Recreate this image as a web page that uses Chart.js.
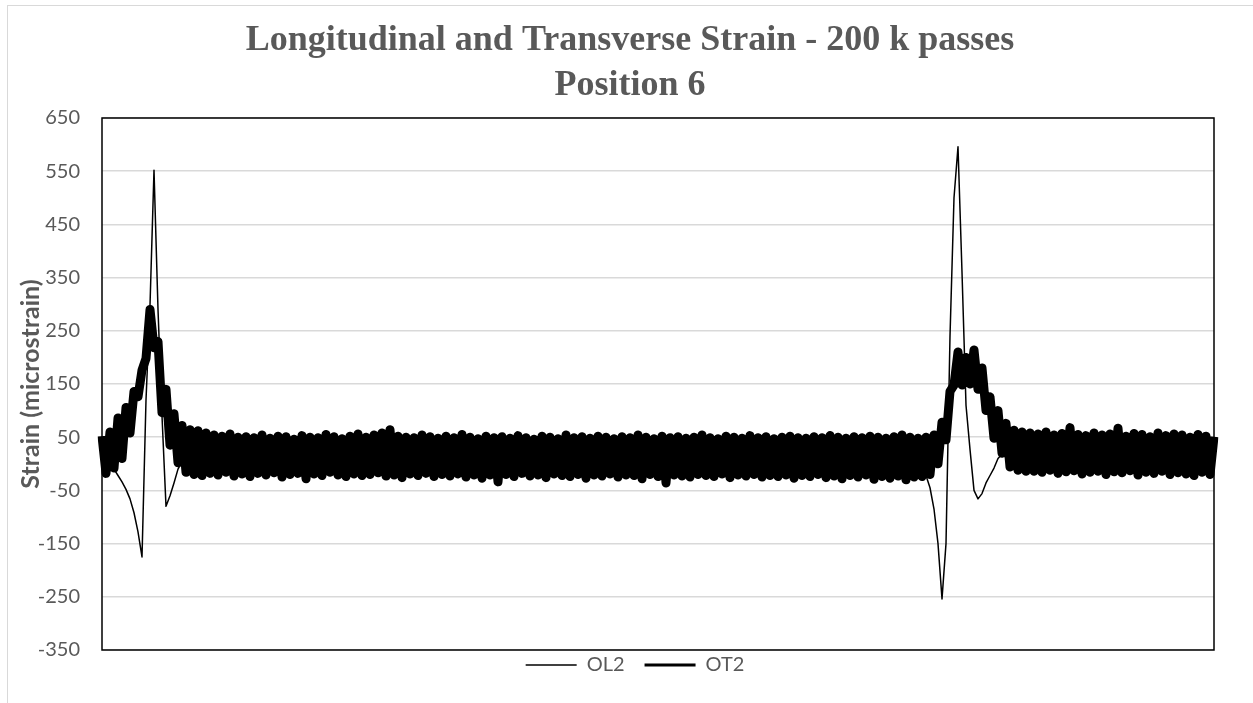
<!DOCTYPE html>
<html>
<head>
<meta charset="utf-8">
<title>Longitudinal and Transverse Strain - 200 k passes</title>
<script src="https://cdn.jsdelivr.net/npm/chart.js@4.4.1/dist/chart.umd.min.js"></script>
<style>
	html, body { margin: 0; padding: 0; background: #fff; }
	canvas { display: block; }
</style>
</head>
<body>
<canvas id="strainChart" width="1253" height="703"></canvas>
<script>
// samples (microstrain), one every ~4 px of the trace
const OL2 = [
	10, 6, 2, -10, -22, -34, -48, -66, -92, -128, -175, 120, 298, 552, 290, 90, -80, -60, -36, -10, 4, 12, 8,
	15, 4, 20, 8, 18, 2, 22, 10, 16, 6,
	19, 3, 21, 9, 14, 5, 23, 11, 17, 7,
	20, 2, 18, 8, 24, 4, 16, 10, 21, 6,
	15, 3, 19, 9, 22, 5, 17, 11, 20, 7,
	18, 4, 23, 8, 15, 2, 21, 10, 19, 6,
	16, 3, 22, 9, 18, 5, 20, 11, 14, 7,
	21, 4, 17, 8, 23, 2, 19, 10, 16, 6,
	20, 3, 15, 9, 22, 5, 18, 11, 21, 7,
	17, 4, 24, 8, 16, 2, 20, 10, 18, 6,
	19, 3, 21, 9, 15, 5, 23, 11, 17, 7,
	22, 4, 18, 8, 20, 2, 16, 10, 21, 6,
	15, 3, 19, 9, 24, 5, 17, 11, 20, 7,
	18, 4, 22, 8, 16, 2, 21, 10, 19, 6,
	23, 3, 17, 9, 20, 5, 15, 11, 22, 7,
	16, 4, 21, 8, 18, 2, 24, 10, 17, 6,
	20, 3, 15, 9, 22, 5, 19, 11, 16, 7,
	21, 4, 18, 8, 23, 2, 17, 10, 20, 6,
	15, 3, 22, 9, 19, 5, 16, 11, 21, 7,
	14, 9,
	8, -22, -45, -85, -150, -254, -150, 240, 500, 596, 360, 110, 27, -50, -66, -56, -36, -22, -8, 10, 18, 12, 20, 8, 16, 6, 19,
	5, 17, 9, 21, 4, 15, 10, 22, 6, 18,
	3, 20, 8, 16, 11, 23, 5, 19, 7, 14,
	9, 21, 4, 18, 10, 22, 6, 15, 8, 20,
	3, 17, 11, 24, 5, 19, 7, 16, 9, 21,
	4, 18, 10, 15, 6, 20, 12,
];

// OT2 swings between the top and bottom of its noise band at every sample
const OT2 = [
	52, -18, 60, -8, 86, 10, 106, 58, 136, 126, 176, 198, 290, 218, 230, 96, 140, 35, 94, 2, 72, -16, 64,
	-20, 62, -22, 58, -18, 54, -21, 52, -16, 56,
	-23, 50, -19, 51, -24, 49, -18, 54, -21, 48,
	-17, 52, -25, 51, -20, 46, -18, 53, -28, 50,
	-19, 49, -22, 55, -16, 51, -21, 47, -24, 52,
	-19, 56, -22, 50, -20, 54, -17, 58, -23, 64,
	-21, 52, -26, 50, -19, 49, -22, 54, -18, 51,
	-24, 48, -20, 52, -23, 49, -19, 55, -25, 50,
	-21, 47, -27, 52, -21, 49, -34, 51, -20, 48,
	-24, 53, -18, 49, -23, 46, -21, 52, -26, 50,
	-19, 47, -22, 54, -24, 49, -20, 51, -27, 48,
	-21, 52, -23, 50, -19, 47, -25, 51, -21, 49,
	-22, 54, -28, 50, -20, 47, -24, 52, -36, 49,
	-21, 51, -23, 48, -25, 50, -20, 54, -22, 49,
	-24, 47, -19, 52, -26, 50, -21, 48, -23, 53,
	-20, 49, -25, 51, -22, 47, -24, 50, -21, 52,
	-27, 49, -22, 48, -24, 51, -20, 49, -26, 53,
	-23, 50, -28, 48, -22, 51, -25, 49, -21, 52,
	-29, 50, -24, 48, -27, 51, -23, 54, -30, 50,
	-25, 48,
	-24, 50, -20, 54, 0, 78, 45, 136, 148, 210, 148, 200, 150, 214, 140, 180, 100, 126, 48, 100, 20, 76, -6, 63, -12, 60, -14,
	58, -14, 56, -16, 60, -12, 54, -18, 57, -15,
	68, -13, 55, -19, 53, -16, 58, -14, 54, -20,
	56, -15, 67, -17, 52, -13, 57, -21, 55, -16,
	51, -18, 58, -14, 53, -20, 56, -17, 54, -19,
	50, -22, 55, -16, 52, -20, 51,
];

const seriesNames = ["OL2", "OT2"];
const yMin = -350;
const yMax = 650;
const yStep = 100;

const samples = OT2.map(function (v, i) {
	return i;
});

const grey = "#595959";

// light outer frame, black plot border, legend and title nudged like the original
const frame = {
	id: "frame",
	beforeDraw: function (chart) {
		const ctx = chart.ctx;
		ctx.save();
		ctx.fillStyle = "#fff";
		ctx.fillRect(0, 0, chart.width, chart.height);
		ctx.strokeStyle = "#d9d9d9";
		ctx.lineWidth = 1;
		ctx.strokeRect(7.5, 5.5, chart.width, chart.height);
		ctx.restore();
	},
	afterLayout: function (chart) {
		const lg = chart.legend;
		lg.left += 24;
		lg.right += 24;
		lg.top -= 15;
		lg.bottom -= 15;
		const t = chart.titleBlock;
		t.left += 19;
		t.right += 19;
	},
	afterDraw: function (chart) {
		const a = chart.chartArea;
		const ctx = chart.ctx;
		ctx.save();
		ctx.strokeStyle = "#000";
		ctx.lineWidth = 1.5;
		ctx.strokeRect(a.left, a.top, a.right - a.left, a.bottom - a.top);
		ctx.restore();
	},
};

const ctx = document.getElementById("strainChart");
const strainChart = new Chart(ctx, {
	type: "line",
	data: {
		labels: samples,
		datasets: [
			{
				label: seriesNames[0],
				data: OL2,
				borderColor: "#000",
				backgroundColor: "#000",
				borderWidth: 1.5,
				pointRadius: 0,
				tension: 0,
				borderJoinStyle: "round",
			},
			{
				label: seriesNames[1],
				data: OT2,
				borderColor: "#000",
				backgroundColor: "#000",
				borderWidth: 9,
				pointRadius: 0,
				tension: 0,
				borderJoinStyle: "round",
			},
		],
	},
	options: {
		responsive: false,
		animation: false,
		layout: {
			padding: { left: 8, right: 39, top: 0, bottom: 3 },
		},
		scales: {
			x: { display: false },
			y: {
				min: yMin,
				max: yMax,
				afterFit: function (scale) {
					scale.width = 94;
				},
				ticks: {
					stepSize: yStep,
					padding: 22,
					color: grey,
					font: { family: "Lato", size: 20 },
				},
				grid: { color: "#d9d9d9", lineWidth: 1.5, drawTicks: false },
				border: { display: false },
				title: {
					display: true,
					text: "Strain (microstrain)",
					color: grey,
					padding: { top: 8, bottom: 0 },
					font: { family: "Lato", size: 25, weight: "bold" },
				},
			},
		},
		plugins: {
			title: {
				display: true,
				text: ["Longitudinal and Transverse Strain - 200 k passes", "Position 6"],
				color: grey,
				padding: { top: 18, bottom: 10 },
				font: { family: "Liberation Serif", size: 36, weight: "bold", lineHeight: 1.25 },
			},
			legend: {
				position: "bottom",
				labels: {
					usePointStyle: true,
					pointStyle: "line",
					pointStyleWidth: 51,
					padding: 20,
					color: grey,
					font: { family: "Lato", size: 20 },
					generateLabels: function (chart) {
						return Chart.defaults.plugins.legend.labels.generateLabels(chart).map(function (item, i) {
							item.lineWidth = i === 0 ? 1.5 : 3;
							return item;
						});
					},
				},
			},
			tooltip: { enabled: false },
		},
	},
	plugins: [frame],
});
</script>
</body>
</html>
